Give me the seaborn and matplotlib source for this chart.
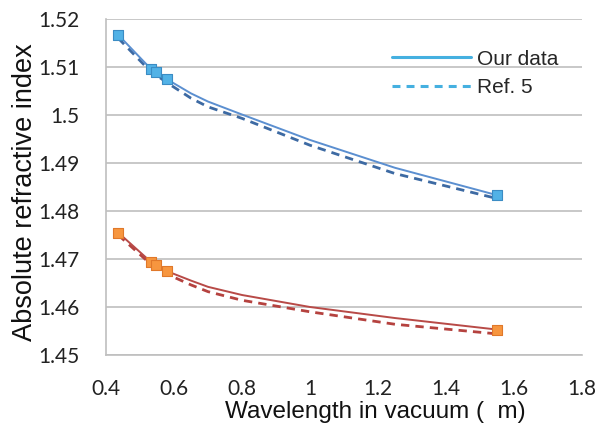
import matplotlib
matplotlib.use("Agg")
import matplotlib.pyplot as plt
from matplotlib.lines import Line2D
import seaborn as sns
import pandas as pd

# Measured points (markers)
wl_pts = [0.436, 0.532, 0.546, 0.578, 1.55]
n1_pts = [1.5167, 1.5096, 1.5090, 1.5075, 1.4833]
n2_pts = [1.4755, 1.4694, 1.4688, 1.4676, 1.4553]

# Curves
wl_curve = [0.436, 0.532, 0.546, 0.578, 0.65, 0.7, 0.8, 1.0, 1.25, 1.55]
n1_ours = [1.5167, 1.5096, 1.5090, 1.5075, 1.5045, 1.5028, 1.5001, 1.4948, 1.4890, 1.4833]
n1_ref = [1.5160, 1.5090, 1.5084, 1.5068, 1.5035, 1.5017, 1.4993, 1.4937, 1.4878, 1.4826]
n2_ours = [1.4755, 1.4694, 1.4688, 1.4675, 1.4655, 1.4642, 1.4625, 1.4600, 1.4577, 1.4553]
n2_ref = [1.4750, 1.4689, 1.4683, 1.4669, 1.4646, 1.4632, 1.4614, 1.4590, 1.4564, 1.4544]

x_ticks = [0.4, 0.6, 0.8, 1.0, 1.2, 1.4, 1.6, 1.8]
x_ticklabels = ["0.4", "0.6", "0.8", "1", "1.2", "1.4", "1.6", "1.8"]
y_ticks = [1.45, 1.46, 1.47, 1.48, 1.49, 1.5, 1.51, 1.52]
y_ticklabels = ["1.45", "1.46", "1.47", "1.48", "1.49", "1.5", "1.51", "1.52"]

sns.set_style("white")
plt.rcParams['font.family'] = ['Liberation Sans', 'DejaVu Sans']

fig = plt.figure(figsize=(5.98, 4.34), dpi=100)
ax = fig.add_axes([106/598, 1-355/434, (582-106)/598, (355-19)/434])

curves = pd.DataFrame({"wl": wl_curve, "o1": n1_ours, "r1": n1_ref, "o2": n2_ours, "r2": n2_ref})
pts = pd.DataFrame({"wl": wl_pts, "n1": n1_pts, "n2": n2_pts})

blue_line = "#5b8fd0"
blue_dash = "#3d6aa3"
red_line = "#b84a47"
red_dash = "#b5423f"

sns.lineplot(data=curves, x="wl", y="r1", ax=ax, color=blue_dash, lw=2.0,
             linestyle=(0, (3, 2.2)), sort=False)
sns.lineplot(data=curves, x="wl", y="o1", ax=ax, color=blue_line, lw=1.4, sort=False)
sns.lineplot(data=curves, x="wl", y="r2", ax=ax, color=red_dash, lw=2.0,
             linestyle=(0, (3, 2.2)), sort=False)
sns.lineplot(data=curves, x="wl", y="o2", ax=ax, color=red_line, lw=1.4, sort=False)

sns.scatterplot(data=pts, x="wl", y="n1", ax=ax, marker="s", s=58,
                color="#52b2e6", edgecolor="#3b8cc4", linewidth=0.8, zorder=5)
sns.scatterplot(data=pts, x="wl", y="n2", ax=ax, marker="s", s=58,
                color="#f7963f", edgecolor="#e0782a", linewidth=0.8, zorder=5)

ax.set_xlim(0.4, 1.8)
ax.set_ylim(1.45, 1.52)
ax.set_xticks(x_ticks)
ax.set_xticklabels(x_ticklabels)
ax.set_yticks(y_ticks)
ax.set_yticklabels(y_ticklabels)
for lab in ax.get_xticklabels() + ax.get_yticklabels():
    lab.set_family(['Lato', 'DejaVu Sans'])
    lab.set_fontsize(15)
    lab.set_color("#222222")
ax.tick_params(axis='y', length=0, pad=19)
ax.tick_params(axis='x', length=0, pad=17)

ax.yaxis.grid(True, color="#bfbfbf", lw=1.2)
ax.xaxis.grid(False)
for s in ["top", "right"]:
    ax.spines[s].set_visible(False)
for s in ["left", "bottom"]:
    ax.spines[s].set_color("#bfbfbf")
    ax.spines[s].set_linewidth(1.2)

ax.set_xlabel("Wavelength in vacuum (  m)", fontsize=17.5, color="#111111")
ax.set_ylabel("Absolute refractive index", fontsize=19.5, color="#111111")
ax.xaxis.set_label_coords((375-106)/476, -(412-355)/336)
ax.yaxis.set_label_coords(-(106-25)/476, (355-192)/336)
ax.xaxis.label.set_va("center")
ax.yaxis.label.set_va("center")

handles = [Line2D([0], [0], color="#45b0e0", lw=2.2),
           Line2D([0], [0], color="#45b0e0", lw=2.2, linestyle=(0, (2.6, 2.0)))]
leg = ax.legend(handles, ["Our data", "Ref. 5"], loc="upper left",
                bbox_to_anchor=((373-106)/476, 1-(31-19)/336), frameon=False, fontsize=15,
                handlelength=3.8, handletextpad=0.3, labelspacing=0.45)
leg.set_zorder(10)

fig.savefig("out.png", dpi=100)
